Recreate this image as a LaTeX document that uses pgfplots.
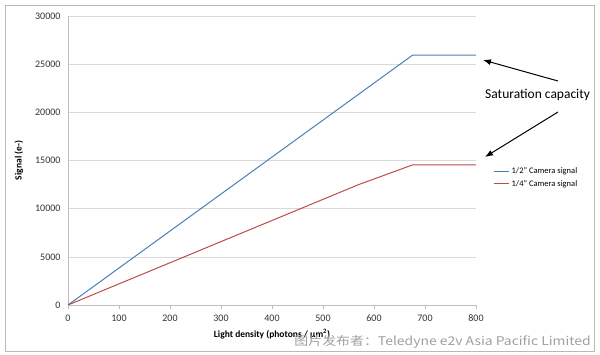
\documentclass[border=0pt]{standalone}
\usepackage{pgfplots}
\pgfplotsset{compat=1.18}
\usetikzlibrary{arrows.meta}
\usepackage{fontspec}
\setmainfont{Carlito}
\newfontfamily\cjk{Noto Sans CJK SC}
\definecolor{blueline}{RGB}{74,126,187}
\definecolor{redline}{RGB}{190,75,72}
\definecolor{gridc}{RGB}{217,217,217}
\definecolor{axc}{RGB}{190,190,190}
\begin{document}
\begin{tikzpicture}[x=1pt,y=1pt]
\useasboundingbox (0,0) rectangle (600,355);
\draw[gray!55] (5,4) rectangle (594,350);
\begin{axis}[
  at={(68pt,50pt)}, anchor=south west,
  scale only axis, width=408pt, height=289pt,
  xmin=0, xmax=800, ymin=0, ymax=30000,
  axis x line=bottom, axis y line=left,
  axis line style={axc, -},
  xtick={0,100,...,800}, ytick={0,5000,...,30000},
  ymajorgrids, major grid style={gridc, line width=0.6pt},
  xtick style={axc}, major tick length=4pt,
  ytick style={draw=none},
  tick align=outside,
  scaled y ticks=false,
  /pgf/number format/assume math mode=true,
  yticklabel style={/pgf/number format/1000 sep={}},
  xticklabel style={yshift=-2pt},
  ticklabel style={font=\fontsize{10}{11}\selectfont, text=black!80},
  xlabel={\textbf{Light density (photons / µm\textsuperscript{2})}},
  ylabel={\textbf{Signal (e-)}},
  label style={font=\fontsize{9.5}{11}\selectfont},
  xlabel style={yshift=-1pt},
  ylabel style={yshift=5pt},
  legend style={at={(1.035,0.49)}, anchor=north west, draw=white, fill=white,
    font=\fontsize{8.5}{9.5}\selectfont, row sep=1pt},
  legend cell align=left,
  legend image code/.code={\draw[#1] (0pt,0pt) -- (15pt,0pt);},
]
\addlegendimage{draw=blueline, line width=1.2pt}
\addlegendentry{1/2'' Camera signal}
\addlegendimage{draw=redline, line width=1.2pt}
\addlegendentry{1/4'' Camera signal}
\addplot[blueline, line width=1pt, forget plot] coordinates {(0,0) (676,25950) (800,25950)};
\addplot[redline, line width=1pt, forget plot] coordinates {(0,0) (570,12500) (676,14550) (800,14550)};
\end{axis}
\node[font=\fontsize{13.5}{15}\selectfont, anchor=west, inner sep=0pt] at (485,260) {Saturation capacity};
\draw[-{Latex[length=8pt,width=6pt]}, line width=1pt] (558,274) -- (483,295);
\draw[-{Latex[length=8pt,width=6pt]}, line width=1pt] (558,243) -- (485,198);
\node[font=\cjk\fontsize{12}{13}\selectfont, text=gray!75, anchor=south east, inner sep=0pt, xscale=1.16] at (591,6) {图片发布者：Teledyne e2v Asia Pacific Limited};
\end{tikzpicture}
\end{document}
